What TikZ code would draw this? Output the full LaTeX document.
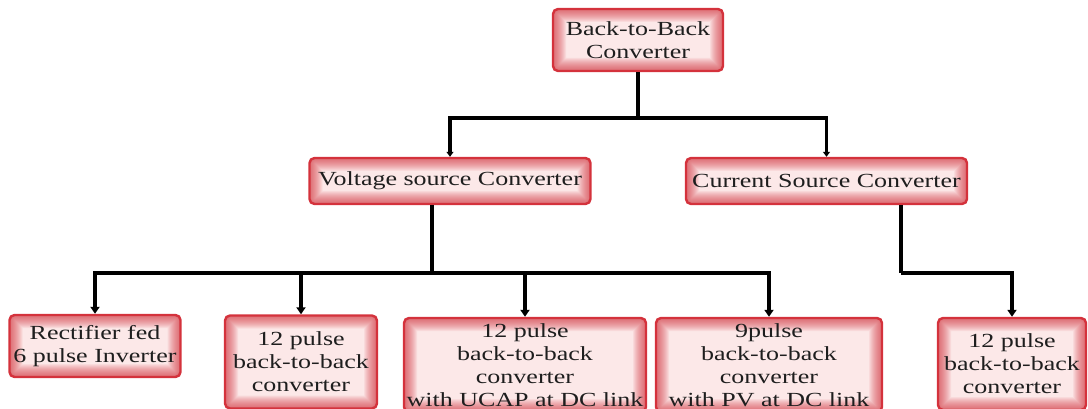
\documentclass[tikz,border=0pt]{standalone}
\usepackage{fontspec}
\setmainfont{Liberation Serif}[FakeStretch=1.3]
\usetikzlibrary{arrows.meta}
\definecolor{boxred}{HTML}{D4323C}
\definecolor{boxfill}{HTML}{FCE8E8}
\definecolor{txt}{HTML}{1E1E1E}
\tikzset{
  box/.style={rectangle, rounded corners=5pt, draw=boxred, line width=2.4pt,
    fill=boxfill, align=center, text=txt, inner sep=0pt,
    font=\fontsize{20}{23}\selectfont,
    path picture={\foreach \w in {2,4,...,26}{
      \draw[line width=\w pt, draw=boxred, opacity=0.075, rounded corners=5pt]
        (path picture bounding box.south west) rectangle (path picture bounding box.north east);}}},
  conn/.style={line width=3.2pt, draw=black},
  arr/.style={conn, -{Triangle[width=9pt,length=7pt]}},
  arrsmall/.style={conn, -{Triangle[width=7pt,length=5pt]}}
}
\begin{document}
\begin{tikzpicture}[x=1pt,y=-1pt]
\useasboundingbox (0,0) rectangle (1088,409);
\node[box, minimum width=170pt, minimum height=62pt] (top) at (638,40) {Back-to-Back\\Converter};
\node[box, minimum width=281pt, minimum height=46pt] (vsc) at (450,181) {Voltage source Converter};
\node[box, minimum width=281pt, minimum height=46pt] (csc) at (826.5,181) {Current Source Converter};
\node[box, minimum width=171pt, minimum height=62pt] (b1) at (95,346) {Rectifier fed\\6 pulse Inverter};
\node[box, minimum width=152pt, minimum height=93pt] (b2) at (301,362) {12 pulse\\back-to-back\\converter};
\node[box, minimum width=242pt, minimum height=94pt] (b3) at (525,365) {12 pulse\\back-to-back\\converter\\with UCAP at DC link};
\node[box, minimum width=226pt, minimum height=94pt] (b4) at (769,365) {9pulse\\back-to-back\\converter\\with PV at DC link};
\node[box, minimum width=148pt, minimum height=92pt] (b5) at (1012,364) {12 pulse\\back-to-back\\converter};
\coordinate (j1) at (638,118);
\coordinate (j2) at (432,273);
\coordinate (j3) at (901,273);
\draw[conn] (top.south) -- (j1);
\draw[arrsmall] (j1) -| (vsc.north);
\draw[arrsmall] (j1) -| (csc.north);
\draw[conn] (vsc.south -| j2) -- (j2);
\draw[arr] (j2) -| (b1.north);
\draw[arr] (j2) -| (b2.north);
\draw[arr] (j2) -| (b3.north);
\draw[arr] (j2) -| (b4.north);
\draw[conn] (csc.south -| j3) -- (j3);
\draw[arr] (j3) -| (b5.north);
\end{tikzpicture}
\end{document}
